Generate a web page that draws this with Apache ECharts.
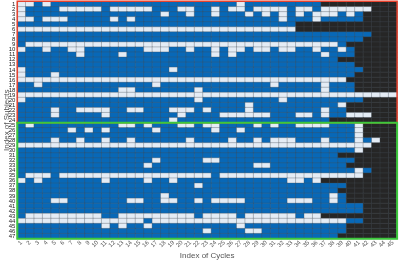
<!DOCTYPE html>
<html><head><meta charset="utf-8">
<script src="https://cdn.jsdelivr.net/npm/echarts@6/dist/echarts.min.js"></script>
<style>html,body{margin:0;padding:0;background:#fff}#c{width:399px;height:261px}</style>
</head><body><div id="c"></div>
<script>
const cycleLabels = ['1','2','3','4','5','6','7','8','9','10','11','12','13','14','15','16','17','18','19','20','21','22','23','24','25','26','27','28','29','30','31','32','33','34','35','36','37','38','39','40','41','42','43','44','45'];
const subjectLabels = ['1','2','3','4','5','6','7','8','9','10','11','12','13','14','15','16','17','18','19','20','21','22','23','24','25','26','27','28','29','30','31','32','33','34','35','36','37','38','39','40','41','42','43','44','45','46','47'];
// '1' = cycle detected (blue), '0' = missed (light), '.' = no cycle (black)
const subjectRows = [
 "00101 11111 11111 11111 11111 10111 11111 1.... .....",
 "01111 00000 10000 01110 01101 00100 00100 10000 00...",
 "01111 11111 11111 11011 01101 11010 10101 00010 1....",
 "00100 01111 10101 11111 11111 11111 10111 01111 1....",
 "11111 11111 11111 11111 11111 11111 111.. ..... .....",
 "00000 00000 00000 00000 00000 00000 000.. ..... .....",
 "11111 11111 11111 11111 11111 11111 11111 11111 11...",
 "11111 11111 11111 11111 11111 11111 11111 11111 1....",
 "10000 00000 00000 00000 00000 00000 00000 0001. .....",
 "01101 10011 11111 00011 01101 00100 10011 01101 .....",
 "11111 11011 11011 11111 11101 01111 11111 10111 .....",
 "11111 11111 11111 11111 11111 11111 11111 111.. .....",
 "11111 11111 11111 11111 11111 11111 11111 11111 .....",
 "01111 11111 11111 11101 11111 11111 11111 11111 1....",
 "01110 11111 11111 11111 11111 11111 11111 11111 .....",
 "00000 00000 00000 00000 00000 00000 00000 0000. .....",
 "11011 11111 11111 10111 11111 11111 01111 10111 .....",
 "11111 11111 11001 11111 10111 11111 11111 10111 .....",
 "00000 00000 00000 00000 00000 00000 00000 00000 00000",
 "01111 11111 11111 11111 10111 11111 10111 11111 1....",
 "11111 11111 11111 11111 11111 11011 11111 1110. .....",
 "11110 11000 01100 11100 01011 11011 11111 1011. .....",
 "11110 11111 01111 11110 11110 00000 11100 10110 00...",
 "11111 11111 11111 11101 11111 11111 11111 11... .....",
 "10111 11111 11001 01110 01001 11101 01100 00111 0....",
 "11111 10101 01111 10111 11101 10111 11111 11111 0....",
 "11111 11111 11111 11111 11111 11111 11111 11111 0....",
 "11110 11011 01101 11111 01111 01101 00011 10111 010..",
 "00000 00000 00000 00000 00000 00000 00000 00000 00...",
 "11111 11111 11111 11111 11111 11111 11111 11111 0....",
 "11111 11111 11111 11111 11111 11111 11111 111.. .....",
 "11111 11111 11111 10111 11001 11111 11111 11111 .....",
 "11111 11111 11111 01111 11111 11100 11111 1111. .....",
 "11111 11111 11111 11111 11111 11111 11111 11111 01...",
 "10001 00000 00000 00000 00010 00000 00000 00000 0....",
 "01011 11111 01111 01101 11111 11111 11001 0.... .....",
 "11111 11111 11111 11111 10111 11111 11111 1111. .....",
 "11111 11111 11111 11111 11111 11111 11111 111.. .....",
 "11111 11111 11111 11011 11111 11111 11111 1101. .....",
 "11110 01111 11100 11001 10100 00111 11000 1101. .....",
 "11111 11111 11111 11111 11111 11111 11111 11111 1....",
 "11111 11111 11111 11111 11111 11111 11111 11111 1....",
 "10000 00000 11000 00000 01000 01000 00010 0.... .....",
 "00000 00000 00000 10000 00000 00000 00000 00001 1....",
 "11111 11111 01011 01111 11111 10111 11111 1111. .....",
 "11111 11111 11111 11111 11011 11001 11111 1111. .....",
 "11111 11111 11111 11111 11111 11111 11111 111.. ....."
];

const stateColors = ['#0868b7', '#e4ecf5', '#262626'];
const cells = [];
subjectRows.forEach((row, r) => {
  const s = row.replace(/ /g, '');
  for (let c = 0; c < s.length; c++) {
    const v = s[c] === '1' ? 0 : (s[c] === '0' ? 1 : 2);
    cells.push([c, r, v]);
  }
});

const chart = echarts.init(document.getElementById('c'), null, {renderer: 'canvas'});
const font = 'Liberation Sans, Arial, sans-serif';
chart.setOption({
  animation: false,
  backgroundColor: '#ffffff',
  grid: {left: 17.3, right: 1.9, top: 1.8, bottom: 22.3, containLabel: false, outerBoundsMode: 'none'},
  xAxis: {
    type: 'category', data: cycleLabels,
    axisLine: {show: false}, axisTick: {show: false}, splitLine: {show: false},
    axisLabel: {interval: 0, rotate: 45, fontSize: 6, color: '#555', margin: 3, fontFamily: font},
    name: 'Index of Cycles', nameLocation: 'middle', nameGap: 13, nameMoveOverlap: false,
    nameTextStyle: {fontSize: 8, color: '#555', fontFamily: font}
  },
  yAxis: {
    type: 'category', data: subjectLabels, inverse: true,
    axisLine: {show: false}, axisTick: {show: false}, splitLine: {show: false},
    axisLabel: {interval: 0, fontSize: 6, color: '#222', margin: 2, fontFamily: font},
    name: 'Index of Subjects', nameLocation: 'middle', nameGap: 7, nameMoveOverlap: false,
    nameTextStyle: {fontSize: 8, color: '#555', fontFamily: font}
  },
  visualMap: {
    show: false, type: 'piecewise', dimension: 2,
    pieces: [{value: 0, color: stateColors[0]}, {value: 1, color: stateColors[1]}, {value: 2, color: stateColors[2]}]
  },
  series: [{
    type: 'heatmap', data: cells,
    itemStyle: {borderColor: 'rgba(70,80,90,0.55)', borderWidth: 0.6},
    emphasis: {disabled: true}
  }]
});

// outline boxes for the two subject groups, placed through the axis scales
const a = chart.convertToPixel({xAxisIndex: 0, yAxisIndex: 0}, [0, 0]);
const b = chart.convertToPixel({xAxisIndex: 0, yAxisIndex: 0}, [44, 46]);
const cw = (b[0] - a[0]) / 44, ch = (b[1] - a[1]) / 46;
const x0 = a[0] - cw / 2, x1 = b[0] + cw / 2;
const y0 = a[1] - ch / 2, yMid = a[1] + ch * 23.5, y1 = b[1] + ch / 2;
chart.setOption({
  graphic: [
    {type: 'rect', shape: {x: x0, y: y0 - 0.5, width: x1 - x0, height: yMid - y0 + 0.5}, style: {fill: 'none', stroke: '#e8432e', lineWidth: 1.5}, z: 100},
    {type: 'rect', shape: {x: x0, y: yMid, width: x1 - x0, height: y1 - yMid}, style: {fill: 'none', stroke: '#3cc83c', lineWidth: 2}, z: 101}
  ]
});
</script>
</body></html>
